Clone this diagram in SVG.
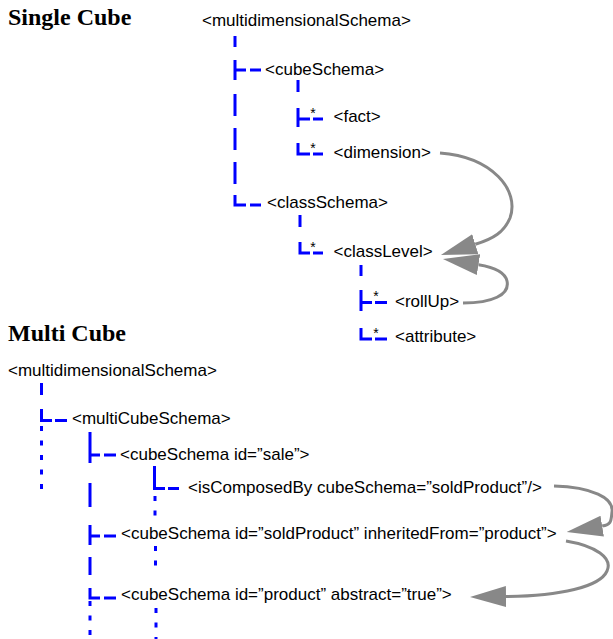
<svg xmlns="http://www.w3.org/2000/svg" width="613" height="639" viewBox="0 0 613 639">
<style>
.t{font-family:"Liberation Sans",Arial,sans-serif;font-size:17px;fill:#000}
.h{font-family:"Liberation Serif","Times New Roman",serif;font-size:24px;font-weight:bold;fill:#000}
.s{font-family:"Liberation Sans",Arial,sans-serif;font-size:14px;fill:#000;text-anchor:middle}
.b{fill:none;stroke:#0000ff;stroke-width:3;stroke-linecap:butt;stroke-linejoin:miter}
.d{fill:none;stroke:#0000ff;stroke-width:3;stroke-dasharray:5 9.5}
.a{fill:none;stroke:#888;stroke-width:3;marker-end:url(#ah)}
</style>
<defs>
<marker id="ah" viewBox="0 -11 36 22" refX="0" refY="0" markerWidth="36" markerHeight="22" markerUnits="userSpaceOnUse" orient="auto">
<path d="M0,-10.5 L36,0 L0,10.5 z" fill="#888"/>
</marker>
</defs>
<rect width="613" height="639" fill="#fff"/>

<text class="h" x="8" y="25">Single Cube</text>
<text class="h" x="8" y="341">Multi Cube</text>

<g id="tree-lines">
<!-- single cube -->
<path class="b" d="M235 36V47M235 60V80M235 94V116M235 128V150M235 162V184M235 195V205H246M250 205H261M235 70H246M250 70H261"/>
<path class="b" d="M298 80V92M298 108V127M298 119H310M313 119H323M298 143V154H310M313 154H323"/>
<path class="b" d="M300 215V227M300 242V253H310M313 253H323"/>
<path class="b" d="M361 265V276M361 290V311M361 302.5H372M375 302.5H387M361 328V339H372M375 339H387"/>
<!-- multi cube -->
<path class="b" d="M41.5 383V395M41.5 409V420.5H52M55 420.5H67"/>
<path class="d" d="M41.5 426V491"/>
<path class="b" d="M90 432V463M90 455H100M104 455H116M90 483V507M90 525V545M90 536H100M104 536H116M90 557V575M90 588V598H100M104 598H116"/>
<path class="d" d="M90 601V639"/>
<path class="b" d="M154.5 466V488.5H165M168 488.5H179"/>
<path class="d" d="M155 496V519M155.5 546V574M156 608V639"/>
</g>

<g id="stars">
<text class="s" x="313" y="118">*</text>
<text class="s" x="313" y="153">*</text>
<text class="s" x="313" y="252">*</text>
<text class="s" x="376" y="301">*</text>
<text class="s" x="376" y="338">*</text>
</g>

<g id="n-multidimensionalSchema-1"><text class="t" x="202" y="26">&lt;multidimensionalSchema&gt;</text></g>
<g id="n-cubeSchema-1"><text class="t" x="265" y="75">&lt;cubeSchema&gt;</text></g>
<g id="n-fact"><text class="t" x="333.5" y="122">&lt;fact&gt;</text></g>
<g id="n-dimension"><text class="t" x="333.5" y="158">&lt;dimension&gt;</text></g>
<g id="n-classSchema"><text class="t" x="267" y="208">&lt;classSchema&gt;</text></g>
<g id="n-classLevel"><text class="t" x="333.5" y="257">&lt;classLevel&gt;</text></g>
<g id="n-rollUp"><text class="t" x="395" y="307">&lt;rollUp&gt;</text></g>
<g id="n-attribute"><text class="t" x="395" y="342">&lt;attribute&gt;</text></g>

<g id="n-multidimensionalSchema-2"><text class="t" x="8" y="376">&lt;multidimensionalSchema&gt;</text></g>
<g id="n-multiCubeSchema"><text class="t" x="72" y="424">&lt;multiCubeSchema&gt;</text></g>
<g id="n-sale"><text class="t" x="120" y="460">&lt;cubeSchema id=”sale”&gt;</text></g>
<g id="n-isComposedBy"><text class="t" x="188" y="493">&lt;isComposedBy cubeSchema=”soldProduct”/&gt;</text></g>
<g id="n-soldProduct"><text class="t" x="121" y="539">&lt;cubeSchema id=”soldProduct” inheritedFrom=”product”&gt;</text></g>
<g id="n-product"><text class="t" x="121" y="600">&lt;cubeSchema id=”product” abstract=”true”&gt;</text></g>

<g id="connectors">
<path class="a" d="M440 153C492 157 520 190 510 218C504 232 494 238.5 475.3 244.3"/>
<path class="a" d="M463 303C492 303 510 295 507 281C505 272 493.3 267.1 478.5 264.7"/>
<path class="a" d="M554 486C592 487 614 498 612 512C611 520 612 524.5 602.2 526.1"/>
<path class="a" d="M566 541C596 546 613 558 607 571C600 587 560 596 506 596.6"/>
</g>
</svg>
